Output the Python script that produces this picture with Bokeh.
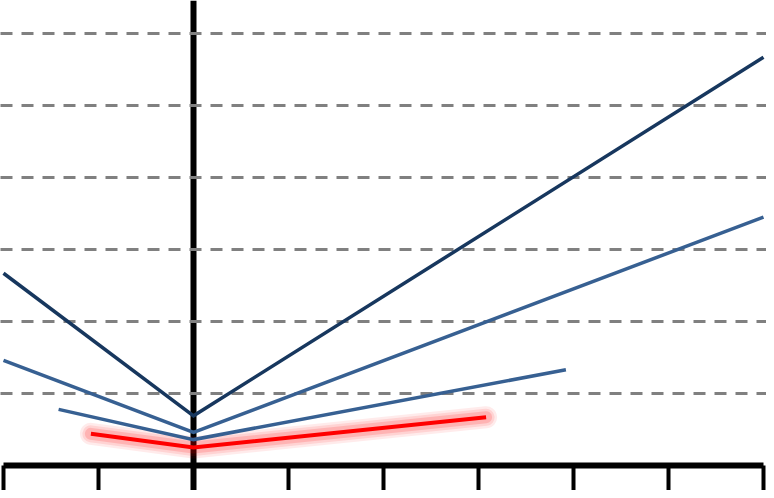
from bokeh.plotting import figure
from bokeh.models import Range1d, LinearAxis, FixedTicker, Grid
from bokeh.embed import file_html
from bokeh.resources import INLINE

# tick / grid positions
x_ticks = [-2, -1, 0, 1, 2, 3, 4, 5, 6]
y_grid = [1, 2, 3, 4, 5, 6]

# series
dark_x = [-2, 0, 6]
dark_y = [2.67, 0.69, 5.67]

blue1_x = [-2, 0, 6]
blue1_y = [1.46, 0.46, 3.45]

blue2_x = [-1.42, 0, 3.92]
blue2_y = [0.78, 0.36, 1.33]

red_x = [-1.08, 0, 3.08]
red_y = [0.44, 0.25, 0.67]

p = figure(width=766, height=490,
           x_range=Range1d(-2.0316, 6.0316), y_range=Range1d(-0.347, 6.458),
           output_backend="svg", toolbar_location=None,
           x_axis_location=None, y_axis_location=None,
           min_border=0, outline_line_color=None,
           background_fill_color="white", border_fill_color="white")

# drop any default grids
p.center = [r for r in p.center if not isinstance(r, Grid)]

xaxis = LinearAxis(fixed_location=0, ticker=FixedTicker(ticks=x_ticks), bounds=(-2, 6),
                   axis_line_width=6, axis_line_color="black",
                   major_tick_line_width=4, major_tick_line_color="black",
                   major_tick_out=28, major_tick_in=0,
                   minor_tick_line_color=None,
                   major_label_overrides={t: "" for t in x_ticks},
                   major_label_standoff=0)
p.add_layout(xaxis, "below")

yaxis = LinearAxis(fixed_location=0, ticker=FixedTicker(ticks=[]),
                   axis_line_width=6, axis_line_color="black",
                   major_tick_line_color=None, minor_tick_line_color=None,
                   major_label_standoff=0)
p.add_layout(yaxis, "left")

grid = Grid(dimension=1, ticker=FixedTicker(ticks=y_grid), grid_line_color="#808080",
            grid_line_width=3, grid_line_dash="12 9", level="annotation")
p.add_layout(grid)

# red glow
for w, a in [(22, 0.08), (17, 0.10), (12, 0.15)]:
    p.line(red_x, red_y, line_color="#FF0000", line_width=w, line_alpha=a,
           line_cap="round", line_join="round", level="overlay")

p.line(dark_x, dark_y, line_color="#17375E", line_width=3.5, line_join="miter", level="overlay")
p.line(blue1_x, blue1_y, line_color="#376092", line_width=3.5, line_join="miter", level="overlay")
p.line(blue2_x, blue2_y, line_color="#376092", line_width=3.5, line_join="miter", level="overlay")
p.line(red_x, red_y, line_color="#FF0000", line_width=4, line_join="miter", level="overlay")

open("out.html", "w").write(file_html(p, INLINE))
